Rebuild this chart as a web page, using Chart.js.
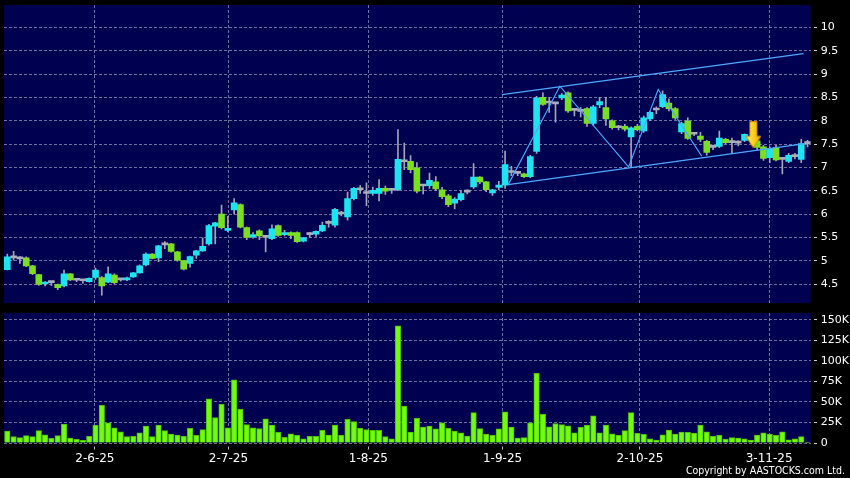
<!DOCTYPE html>
<html>
<head>
<meta charset="utf-8">
<script src="https://cdn.jsdelivr.net/npm/chart.js@4.4.1/dist/chart.umd.min.js"></script>
<style>
  html, body { margin: 0; padding: 0; background: #000; }
  body { width: 850px; height: 478px; position: relative; overflow: hidden; }
  #price-chart { position: absolute; left: 0; top: 0; }
  #volume-chart { position: absolute; left: 0; top: 308px; }
  #copyright {
    position: absolute; right: 5px; top: 464px;
    font: 10.5px "DejaVu Sans Condensed", "DejaVu Sans", sans-serif;
    font-stretch: condensed; color: #fff; white-space: nowrap;
  }
</style>
</head>
<body>
<canvas id="price-chart" width="850" height="308"></canvas>
<canvas id="volume-chart" width="850" height="170"></canvas>
<div id="copyright">Copyright by AASTOCKS.com Ltd.</div>
<script>
// daily candles, oldest first
const opens = [
  4.81, 5.06, 5.04, 5.06, 4.89, 4.70, 4.50, 4.53, 4.49, 4.46,
  4.72, 4.58, 4.57, 4.55, 4.64, 4.64, 4.54, 4.69, 4.59, 4.59,
  4.65, 4.74, 4.91, 5.14, 5.06, 5.34, 5.36, 5.19, 5.00, 4.94,
  5.12, 5.21, 5.36, 5.74, 6.00, 5.65, 6.09, 6.20, 5.71, 5.51,
  5.64, 5.50, 5.47, 5.75, 5.56, 5.60, 5.60, 5.42, 5.56, 5.57,
  5.64, 5.80, 5.76, 6.00, 5.94, 6.33, 6.52, 6.44, 6.44, 6.44,
  6.55, 6.51, 6.52, 7.12, 7.13, 6.99, 6.60, 6.61, 6.69, 6.52,
  6.39, 6.23, 6.31, 6.47, 6.58, 6.79, 6.69, 6.45, 6.57, 6.62,
  6.89, 6.87, 6.86, 6.80, 7.34, 8.50, 8.38, 8.36, 8.49, 8.60,
  8.22, 8.20, 8.26, 7.94, 8.34, 8.28, 8.00, 7.85, 7.88, 7.65,
  7.88, 7.78, 8.04, 8.23, 8.30, 8.38, 8.26, 7.76, 7.99, 7.71,
  7.67, 7.56, 7.43, 7.45, 7.60, 7.53, 7.52, 7.58, 7.60, 7.57,
  7.44, 7.21, 7.42, 7.17, 7.13, 7.23, 7.17, 7.51
];
const highs = [
  5.14, 5.20, 5.09, 5.08, 4.90, 4.71, 4.55, 4.56, 4.50, 4.80,
  4.73, 4.60, 4.60, 4.63, 4.84, 4.66, 4.87, 4.72, 4.62, 4.65,
  4.75, 4.91, 5.17, 5.15, 5.33, 5.41, 5.37, 5.20, 5.01, 5.10,
  5.22, 5.49, 5.78, 5.82, 6.19, 5.95, 6.33, 6.22, 5.72, 5.60,
  5.66, 5.53, 5.77, 5.77, 5.65, 5.62, 5.62, 5.50, 5.60, 5.64,
  5.83, 5.86, 6.12, 6.06, 6.47, 6.57, 6.61, 6.67, 6.58, 6.74,
  6.60, 6.54, 7.81, 7.52, 7.25, 7.10, 6.62, 6.88, 6.80, 6.57,
  6.42, 6.35, 6.50, 6.52, 7.08, 6.80, 6.70, 6.53, 6.70, 7.35,
  7.02, 6.90, 6.88, 7.26, 8.52, 8.60, 8.50, 8.38, 8.58, 8.62,
  8.26, 8.28, 8.28, 8.33, 8.50, 8.50, 8.02, 7.90, 7.92, 7.87,
  7.92, 8.10, 8.20, 8.30, 8.64, 8.47, 8.28, 7.97, 8.06, 7.74,
  7.75, 7.58, 7.48, 7.78, 7.62, 7.63, 7.57, 7.72, 7.65, 7.60,
  7.47, 7.44, 7.47, 7.19, 7.30, 7.30, 7.60, 7.58
];
const lows = [
  4.80, 5.01, 4.94, 4.87, 4.70, 4.47, 4.46, 4.47, 4.38, 4.44,
  4.57, 4.55, 4.52, 4.54, 4.60, 4.26, 4.53, 4.50, 4.56, 4.57,
  4.64, 4.73, 4.89, 5.04, 4.98, 5.26, 5.18, 4.99, 4.80, 4.86,
  5.05, 5.20, 5.33, 5.36, 5.68, 5.62, 6.00, 5.70, 5.45, 5.48,
  5.45, 5.19, 5.45, 5.52, 5.53, 5.47, 5.39, 5.40, 5.50, 5.52,
  5.62, 5.72, 5.72, 5.96, 5.87, 6.30, 6.44, 6.18, 6.40, 6.28,
  6.42, 6.44, 6.50, 6.95, 6.88, 6.45, 6.43, 6.55, 6.50, 6.33,
  6.16, 6.11, 6.28, 6.43, 6.55, 6.65, 6.48, 6.40, 6.52, 6.55,
  6.82, 6.82, 6.78, 6.78, 7.30, 8.33, 8.18, 7.97, 8.45, 8.18,
  8.10, 8.08, 7.88, 7.90, 8.28, 7.90, 7.82, 7.80, 7.78, 7.00,
  7.78, 7.75, 8.00, 8.15, 8.28, 8.21, 8.03, 7.72, 7.60, 7.68,
  7.55, 7.26, 7.38, 7.42, 7.50, 7.30, 7.46, 7.55, 7.52, 7.38,
  7.15, 7.10, 7.14, 6.86, 7.10, 7.18, 7.10, 7.44
];
const closes = [
  5.08, 5.06, 5.04, 4.89, 4.72, 4.49, 4.54, 4.53, 4.42, 4.72,
  4.59, 4.58, 4.57, 4.62, 4.80, 4.46, 4.72, 4.53, 4.59, 4.63,
  4.74, 4.89, 5.14, 5.05, 5.32, 5.34, 5.20, 5.01, 4.82, 5.09,
  5.21, 5.31, 5.75, 5.81, 5.71, 5.69, 6.24, 5.72, 5.50, 5.56,
  5.53, 5.50, 5.68, 5.54, 5.60, 5.54, 5.41, 5.49, 5.56, 5.63,
  5.76, 5.80, 6.10, 6.00, 6.33, 6.55, 6.52, 6.44, 6.51, 6.55,
  6.49, 6.51, 7.17, 7.12, 6.95, 6.49, 6.60, 6.72, 6.54, 6.37,
  6.20, 6.32, 6.44, 6.47, 6.79, 6.69, 6.52, 6.52, 6.62, 7.06,
  6.89, 6.87, 6.80, 7.23, 8.49, 8.35, 8.38, 8.36, 8.55, 8.21,
  8.22, 8.20, 7.94, 8.30, 8.41, 8.04, 7.85, 7.85, 7.82, 7.85,
  7.81, 8.06, 8.18, 8.23, 8.56, 8.26, 8.06, 7.94, 7.62, 7.71,
  7.60, 7.32, 7.43, 7.63, 7.53, 7.53, 7.52, 7.71, 7.60, 7.43,
  7.19, 7.40, 7.16, 7.17, 7.26, 7.23, 7.51, 7.51
];
// volume in thousands of shares
const volumes = [
  14.5, 7.7, 6.5, 9, 7.7, 15, 10, 5.6, 9, 23,
  6, 4.4, 3.2, 8, 22, 46, 24.6, 18.5, 13.7, 7.7,
  8, 12.5, 20.6, 7.7, 22, 15, 11, 9.7, 8, 18,
  9.3, 16.5, 54, 31, 47, 18.5, 77, 41, 22.6, 18.5,
  17.7, 29.4, 22, 13, 6.9, 11.3, 9.3, 5.2, 8, 8,
  15.3, 9.7, 22, 9.3, 29, 26, 18, 16.5, 15.3, 15.3,
  7.7, 5.2, 143, 45, 13.3, 30, 19.4, 20.6, 17.3, 24.6,
  18, 14.5, 12.5, 8.5, 37, 17.7, 11, 9.3, 17.3, 38,
  19.4, 6, 6.5, 24.6, 85, 35, 19.8, 23.8, 22.6, 21,
  12.5, 19, 22, 33, 12.5, 22, 11.3, 9.3, 15, 37,
  11.7, 10.5, 5.2, 3.6, 10, 15.7, 11, 13.3, 13, 12,
  22, 13.7, 8, 9.3, 4.8, 6.5, 6, 5.2, 3.6, 9.7,
  12.5, 11, 9.3, 13.7, 4, 5.2, 7.7, 1.2
];

const dateLabels = ["2-6-25", "2-7-25", "1-8-25", "1-9-25", "2-10-25", "3-11-25"];
const dateTickAt = [13.9, 35.1, 57.3, 78.6, 100.4, 120.9];
const priceTicks = [4.5, 5, 5.5, 6, 6.5, 7, 7.5, 8, 8.5, 9, 9.5, 10];
const volumeTicks = [0, 25, 50, 75, 100, 125, 150];

// drawn trend annotations: [bar index, price]
const channelTop = [[78.5, 8.56], [126.35, 9.44]];
const channelBottom = [[79.5, 6.63], [126.6, 7.51]];
const zigzag = [[79.5, 6.63], [87.7, 8.74], [98.6, 7.01], [103.3, 8.67], [110.2, 7.24]];
const arrowMark = [118.4, 7.70];

const UP = "#1ee3f0";
const DOWN = "#7ade22";
const FLAT = "#acacbc";
const WICK = "#a4a4b6";
const GRID = "rgba(150,150,185,0.75)";
const LINE = "#4ea8ff";
const FONT = "'DejaVu Sans', sans-serif";
const X_MIN = -0.524;
const X_MAX = 127.5;

function candleColor(i) {
  if (closes[i] > opens[i]) return UP;
  if (closes[i] < opens[i]) return DOWN;
  return FLAT;
}

function toPoints(pairs) {
  return pairs.map((p) => ({ x: p[0], y: p[1] }));
}

function makeArrow() {
  const c = document.createElement("canvas");
  c.width = 16;
  c.height = 27;
  const g = c.getContext("2d");
  const grad = g.createLinearGradient(0, 0, 16, 0);
  grad.addColorStop(0, "#fff29a");
  grad.addColorStop(0.5, "#ffd21a");
  grad.addColorStop(1, "#f0a000");
  g.fillStyle = grad;
  g.beginPath();
  g.moveTo(4.5, 0.5);
  g.lineTo(11.5, 0.5);
  g.lineTo(11.5, 15);
  g.lineTo(15.5, 15);
  g.lineTo(8, 26.5);
  g.lineTo(0.5, 15);
  g.lineTo(4.5, 15);
  g.closePath();
  g.fill();
  g.strokeStyle = "#d08a00";
  g.lineWidth = 1;
  g.stroke();
  return c;
}

const panelFill = {
  id: "panelFill",
  beforeDraw(chart) {
    const { ctx, chartArea: a } = chart;
    ctx.save();
    ctx.fillStyle = "#000050";
    ctx.fillRect(a.left, a.top, a.right - a.left, a.bottom - a.top);
    ctx.restore();
  }
};

function xScale(showLabels) {
  return {
    type: "linear",
    min: X_MIN,
    max: X_MAX,
    offset: false,
    afterBuildTicks: (s) => { s.ticks = dateTickAt.map((v) => ({ value: v })); },
    afterFit: (s) => {
      s.height = showLabels ? 35 : 0;
      s.paddingLeft = 0;
      s.paddingRight = 0;
    },
    ticks: {
      display: showLabels,
      autoSkip: false,
      maxRotation: 0,
      padding: 2,
      color: "#fff",
      font: { family: FONT, size: 12 },
      callback: (value, index) => dateLabels[index]
    },
    grid: {
      offset: false,
      color: GRID,
      drawTicks: showLabels,
      tickLength: 7,
      tickColor: "#bbb",
      tickBorderDash: [0, 3.5, 3, 30]
    },
    border: { display: false, dash: [3, 2] }
  };
}

function yScale(min, max, values, fmt) {
  return {
    position: "right",
    min: min,
    max: max,
    afterBuildTicks: (s) => { s.ticks = values.map((v) => ({ value: v })); },
    afterFit: (s) => {
      s.width = 39.3;
      s.paddingTop = 0;
      s.paddingBottom = 0;
    },
    ticks: {
      color: "#fff",
      padding: 3,
      font: { family: FONT, size: 11 },
      callback: fmt
    },
    grid: {
      color: GRID,
      tickLength: 7,
      tickColor: "#ccc",
      tickBorderDash: [0, 3, 3, 30]
    },
    border: { display: false, dash: [3, 2] }
  };
}

const idx = opens.map((_, i) => i);

new Chart(document.getElementById("price-chart"), {
  type: "bar",
  data: {
    datasets: [
      {
        type: "scatter",
        data: [{ x: arrowMark[0], y: arrowMark[1] }],
        pointStyle: makeArrow(),
        pointRadius: 7,
        order: 0
      },
      {
        type: "line",
        data: toPoints(channelTop),
        borderColor: LINE,
        borderWidth: 1.3,
        pointRadius: 0,
        order: 1
      },
      {
        type: "line",
        data: toPoints(channelBottom),
        borderColor: LINE,
        borderWidth: 1.3,
        pointRadius: 0,
        order: 1
      },
      {
        type: "line",
        data: toPoints(zigzag),
        borderColor: LINE,
        borderWidth: 1.1,
        pointRadius: 0,
        tension: 0,
        order: 1
      },
      {
        data: idx.map((i) => ({ x: i, y: [Math.min(opens[i], closes[i]), Math.max(opens[i], closes[i])] })),
        backgroundColor: idx.map(candleColor),
        barThickness: 6,
        minBarLength: 2,
        grouped: false,
        order: 2
      },
      {
        data: idx.map((i) => ({ x: i, y: [lows[i], highs[i]] })),
        backgroundColor: WICK,
        barThickness: 1,
        grouped: false,
        order: 3
      }
    ]
  },
  options: {
    responsive: false,
    animation: false,
    layout: { autoPadding: false, padding: { top: 5, left: 4, right: 0, bottom: 5 } },
    plugins: { legend: { display: false }, tooltip: { enabled: false } },
    scales: {
      x: xScale(false),
      y: yScale(4.093, 10.48, priceTicks, (v) => String(v))
    }
  },
  plugins: [panelFill]
});

new Chart(document.getElementById("volume-chart"), {
  type: "bar",
  data: {
    datasets: [
      {
        data: idx.map((i) => ({ x: i, y: volumes[i] })),
        backgroundColor: "#72fa12",
        borderColor: "#4cc000",
        borderWidth: 1,
        barThickness: 5.5,
        grouped: false
      }
    ]
  },
  options: {
    responsive: false,
    animation: false,
    layout: { autoPadding: false, padding: { top: 5, left: 4, right: 0, bottom: 0 } },
    plugins: { legend: { display: false }, tooltip: { enabled: false } },
    scales: {
      x: xScale(true),
      y: yScale(0, 158.5, volumeTicks, (v) => (v === 0 ? "0" : v + "K"))
    }
  },
  plugins: [panelFill]
});
</script>
</body>
</html>
